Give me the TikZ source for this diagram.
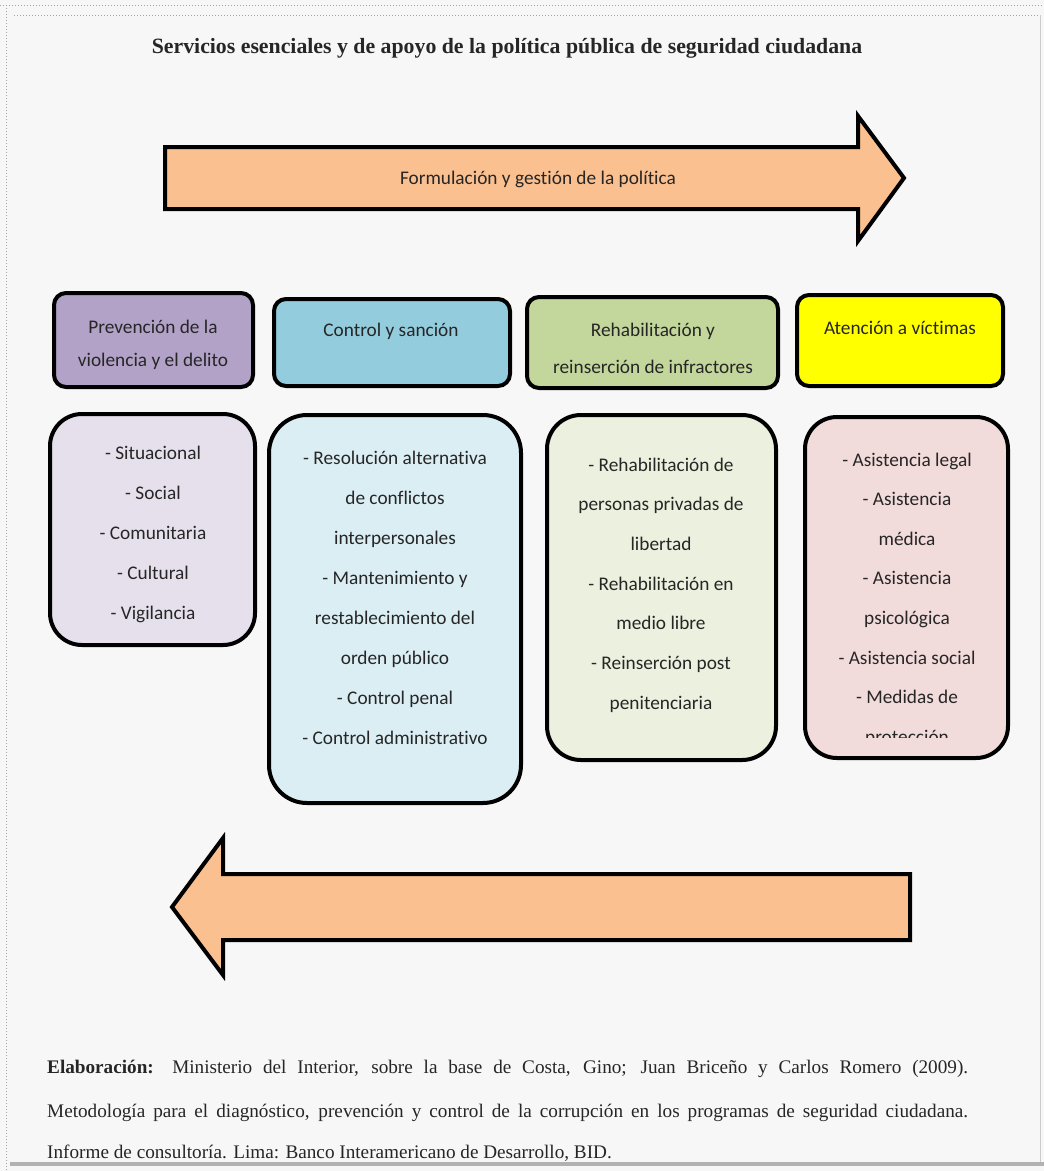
\documentclass[tikz,border=0pt]{standalone}
\usepackage{fontspec}
\setmainfont{Liberation Serif}
\newfontfamily\calib[Ligatures=NoCommon]{Carlito}
\definecolor{bgcol}{HTML}{F7F7F7}
\definecolor{arrowcol}{HTML}{FAC090}
\definecolor{purpH}{HTML}{B3A2C7}
\definecolor{purpB}{HTML}{E6E0EC}
\definecolor{blueH}{HTML}{93CDDD}
\definecolor{blueB}{HTML}{DBEEF4}
\definecolor{greenH}{HTML}{C3D69B}
\definecolor{greenB}{HTML}{EBF1DE}
\definecolor{yellH}{HTML}{FFFF00}
\definecolor{peachB}{HTML}{F2DCDB}
\definecolor{txtcol}{HTML}{262626}
\begin{document}
\begin{tikzpicture}[x=1pt,y=-1pt,
  hdr/.style={draw=black, line width=4pt, rounded corners=12pt, inner sep=0pt},
  bodybox/.style={draw=black, line width=4pt, rounded corners=32pt, inner sep=0pt},
  txt/.style={font=\calib\fontsize{19.3}{24}\selectfont, text=txtcol, inner sep=0pt, anchor=base},
  bigarrow/.style={draw=black, line width=4pt, fill=arrowcol, line join=miter},
  foot/.style={font=\fontsize{19.2}{22}\selectfont, text=txtcol, inner sep=0pt, anchor=base west}]
\useasboundingbox (0,0) rectangle (1044,1171);
\fill[bgcol] (0,0) rectangle (1044,1171);
% frame
\draw[gray!70, dotted, line width=1pt] (0,5) -- (1044,5);
\draw[gray!70, dotted, line width=1pt] (14,15) -- (1040,15);
\draw[gray!70, dotted, line width=1pt] (6,5) -- (6,1171);
\draw[gray!40, line width=1pt] (1040,15) -- (1040,1163);
\draw[gray!60, line width=4pt] (10,1164) -- (1044,1164);

% title
\node[font=\bfseries\fontsize{21.8}{24}\selectfont, text=txtcol, inner sep=0pt, anchor=base] (title) at (507,53)
  {Servicios esenciales y de apoyo de la política pública de seguridad ciudadana};

% top arrow
\draw[bigarrow] (165,147) -- (858,147) -- (858,116) -- (904,178) -- (858,241) -- (858,209) -- (165,209) -- cycle;
\node[txt] (toplabel) at (538,184) {Formulación y gestión de la política};

% header boxes
\node[hdr, fill=purpH, minimum width=199pt, minimum height=94pt] (h1) at (153.5,340) {};
\node[hdr, fill=blueH, minimum width=236pt, minimum height=87pt] (h2) at (392,342.5) {};
\node[hdr, fill=greenH, minimum width=251pt, minimum height=91pt] (h3) at (652.5,342.5) {};
\node[hdr, fill=yellH, minimum width=206pt, minimum height=91pt] (h4) at (900,340.5) {};

\node[txt] (h1a) at (153,333) {Prevención de la};
\node[txt] (h1b) at (153,366) {violencia y el delito};
\node[txt] (h2a) at (391,336) {Control y sanción};
\node[txt] (h3a) at (653,336) {Rehabilitación y};
\node[txt] (h3b) at (653,373) {reinserción de infractores};
\node[txt] (h4a) at (900,334) {Atención a víctimas};

% body boxes
\node[bodybox, fill=purpB, minimum width=205pt, minimum height=231pt] (b1) at (152.5,529.5) {};
\node[bodybox, fill=blueB, minimum width=252pt, minimum height=388pt, rounded corners=38pt] (b2) at (395,609) {};
\node[bodybox, fill=greenB, minimum width=229pt, minimum height=345pt, rounded corners=34pt] (b3) at (661.5,587.5) {};
\node[bodybox, fill=peachB, minimum width=203pt, minimum height=341pt] (b4) at (906.5,587.5) {};

\foreach \t [count=\i] in {- Situacional, - Social, - Comunitaria, - Cultural, - Vigilancia}
  \node[txt] (b1t\i) at (153,{453+6+40*(\i-1)}) {\t};

\foreach \t [count=\i] in {- Resolución alternativa, de conflictos, interpersonales, - Mantenimiento y,
  restablecimiento del, orden público, - Control penal, - Control administrativo}
  \node[txt] (b2t\i) at (395,{458+6+40*(\i-1)}) {\t};

\foreach \t [count=\i] in {- Rehabilitación de, personas privadas de, libertad, - Rehabilitación en,
  medio libre, - Reinserción post, penitenciaria}
  \node[txt] (b3t\i) at (661,{465+6+39.7*(\i-1)}) {\t};

\foreach \t [count=\i] in {- Asistencia legal, - Asistencia, médica, - Asistencia, psicológica,
  - Asistencia social, - Medidas de}
  \node[txt] (b4t\i) at (907,{460+6+39.6*(\i-1)}) {\t};
\begin{scope}
  \clip (805,700) rectangle (1008,737);
  \node[txt] (b4t8) at (907,743) {protección};
\end{scope}

% bottom arrow
\draw[bigarrow] (910,874) -- (223,874) -- (223,838) -- (172,907) -- (223,975) -- (223,940) -- (910,940) -- cycle;

% footer
\node[foot] (f1) at (47,1073) {\makebox[921pt][s]{\textbf{Elaboración:} Ministerio del Interior, sobre la base de Costa, Gino; Juan Briceño y Carlos Romero (2009).}};
\node[foot] (f2) at (47,1117) {\makebox[921pt][s]{Metodología para el diagnóstico, prevención y control de la corrupción en los programas de seguridad ciudadana.}};
\node[foot] (f3) at (47,1158) {Informe de consultoría. Lima: Banco Interamericano de Desarrollo, BID.};
\end{tikzpicture}
\end{document}
